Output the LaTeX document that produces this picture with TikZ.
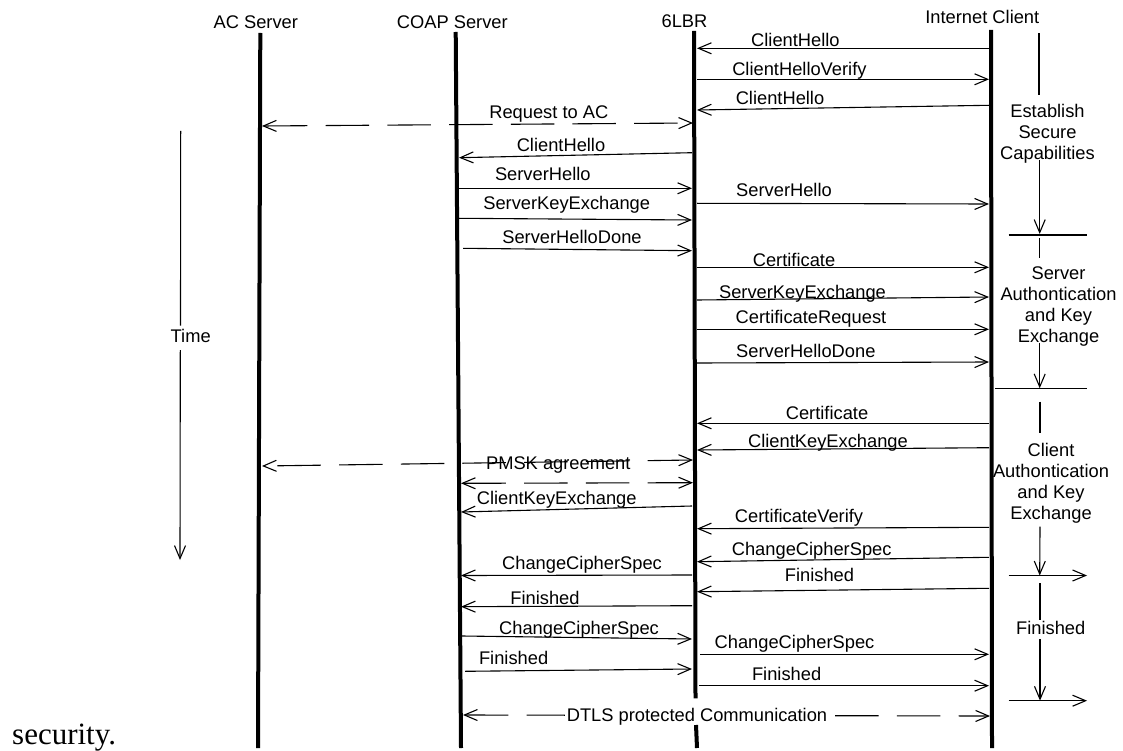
\documentclass[tikz,border=0pt]{standalone}
\usepackage{fontspec}
\setmainfont{Liberation Sans}
\newfontfamily\serifA{Liberation Serif}
\usetikzlibrary{arrows.meta}
\begin{document}
\begin{tikzpicture}[x=1pt,y=-1pt,
  life/.style={line width=4pt},
  msg/.style={line width=1.1pt,-{Straight Barb[length=13pt,width=11pt]}},
  plain/.style={line width=1.1pt},
  dmsg/.style={line width=1.1pt,{Straight Barb[length=13pt,width=11pt]}-{Straight Barb[length=13pt,width=11pt]},dash pattern=on 43.5pt off 18.2pt},
  lbl/.style={font=\fontsize{18.3}{21}\selectfont,inner sep=0pt,text height=13.1pt,text depth=0pt},
  blk/.style={font=\fontsize{18.3}{21}\selectfont,inner sep=0pt,align=center}]
\useasboundingbox (0,0) rectangle (1123,751);

% lifeline end points
\coordinate (acT) at (260.3,33);  \coordinate (acB) at (258,748);
\coordinate (coT) at (455.7,32);  \coordinate (coB) at (461,748);
\coordinate (lbT) at (694,31);    \coordinate (lbM1) at (695.5,698.3);
\coordinate (lbM2) at (696,725);  \coordinate (lbB) at (697,748);
\coordinate (icT) at (991,30);    \coordinate (icB) at (992,748);

% headers
\node[lbl] (acL) at (255.8,21.7) {AC Server};
\node[lbl] (coL) at (452.3,22) {COAP Server};
\node[lbl] (lbL) at (684.5,20.7) {6LBR};
\node[lbl] (icL) at (982.3,16.7) {Internet Client};

% lifelines
\draw[life] (acT) -- (acB);
\draw[life] (coT) -- (coB);
\draw[life] (lbT) -- (lbM1);
\draw[life] (lbM2) -- (lbB);
\draw[life] (icT) -- (icB);

% time axis
\node[lbl] (time) at (190.7,336) {Time};
\coordinate (tT) at (180.7,131); \coordinate (tM1) at (180.5,325.7);
\coordinate (tM2) at (180.3,350); \coordinate (tB) at (180,560);
\draw[plain] (tT) -- (tM1);
\draw[msg] (tM2) -- (tB);

% messages
\draw[msg] (989,48.3) -- (697,48.3);
\node[lbl] (m1) at (795.4,40) {ClientHello};
\draw[msg] (697,79.3) -- (989,79.3);
\node[lbl] (m2) at (799.4,69.3) {ClientHelloVerify};
\draw[msg] (989,105.3) -- (697,110);
\node[lbl] (m3) at (780,98.3) {ClientHello};

\draw[dmsg] (262,126) -- (693,123);
\node[lbl] (m4) at (548.8,112.3) {Request to AC};

\draw[msg] (692,152.7) -- (459,157.7);
\node[lbl] (m5) at (561,145) {ClientHello};
\draw[msg] (459,188.3) -- (692,188.3);
\node[lbl] (m6) at (542.8,174.3) {ServerHello};
\draw[msg] (697,203.3) -- (989,204);
\node[lbl] (m7) at (784,190) {ServerHello};
\draw[msg] (459,218.3) -- (692,220);
\node[lbl] (m8) at (566.7,203.3) {ServerKeyExchange};
\draw[msg] (463,248.3) -- (692,250.7);
\node[lbl] (m9) at (572,237.3) {ServerHelloDone};

\draw[msg] (697,267.3) -- (989,267.3);
\node[lbl] (m10) at (794,260) {Certificate};
\draw[msg] (697,300) -- (989,297);
\node[lbl] (m11) at (802.5,291.7) {ServerKeyExchange};
\draw[msg] (697,329.3) -- (989,329.3);
\node[lbl] (m12) at (811,317.3) {CertificateRequest};
\draw[msg] (697,363) -- (989,362);
\node[lbl] (m13) at (805.8,351.3) {ServerHelloDone};

\draw[msg] (989,423.3) -- (697,423.3);
\node[lbl] (m14) at (827,412.7) {Certificate};
\draw[msg] (989,447.7) -- (697,450);
\node[lbl] (m15) at (828,441) {ClientKeyExchange};

\draw[dmsg] (693,460) -- (262,466);
\node[lbl] (m16) at (558.3,462.7) {PMSK agreement};
\draw[dmsg] (693,482.7) -- (461,483.3);

\draw[msg] (692,506) -- (461,512);
\node[lbl] (m18) at (556.7,498.3) {ClientKeyExchange};
\draw[msg] (989,527.3) -- (697,528.7);
\node[lbl] (m19) at (799,516) {CertificateVerify};
\draw[msg] (989,557.3) -- (697,561.7);
\node[lbl] (m20) at (811.7,549.3) {ChangeCipherSpec};
\draw[msg] (692,575) -- (461,575.5);
\node[lbl] (m21) at (582,563) {ChangeCipherSpec};
\draw[msg] (989,588.3) -- (697,591.7);
\node[lbl] (m22) at (819.5,575) {Finished};
\draw[msg] (692,605.7) -- (461,606.7);
\node[lbl] (m23) at (545,598.3) {Finished};
\draw[msg] (462,636) -- (692,639);
\node[lbl] (m24) at (579,628.3) {ChangeCipherSpec};
\draw[msg] (700,654.3) -- (989,654.3);
\node[lbl] (m25) at (794.5,641.7) {ChangeCipherSpec};
\draw[msg] (465,671.3) -- (692,669);
\node[lbl] (m26) at (513.6,657.7) {Finished};
\draw[msg] (699,685.7) -- (989,685.7);
\node[lbl] (m27) at (786.6,674.3) {Finished};

\draw[dmsg] (463,715) -- (990,716);
\node[lbl,fill=white,inner xsep=1.5pt] (m28) at (697,715) {DTLS protected Communication};

% phase brackets on the right
\draw[plain] (1039,33.3) -- (1039,95);
\node[blk] (ph1) at (1047.5,134) {Establish\\Secure\\Capabilities};
\draw[msg] (1039.7,160) -- (1039.7,234);
\draw[plain] (1008.6,235) -- (1086.5,235);

\draw[plain] (1039.7,238) -- (1039.7,258);
\node[blk] (ph2) at (1058.5,306.9) {Server\\Authontication\\and Key\\Exchange};
\draw[msg] (1039.7,342.7) -- (1039.7,388.3);
\draw[plain] (995,388.3) -- (1086.5,388.3);

\draw[plain] (1040,401.7) -- (1040,433.3);
\node[blk] (ph3) at (1051,482.8) {Client\\Authontication\\and Key\\Exchange};
\draw[msg] (1040,526.7) -- (1039.7,575.5);
\draw[msg] (1008.6,575.5) -- (1087,575.5);

\draw[plain] (1040,583.3) -- (1040,620);
\node[lbl] (ph4) at (1050.7,628.3) {Finished};
\draw[msg] (1040,639.3) -- (1040,700.7);
\draw[msg] (1008.6,700.7) -- (1087,700.7);

% stray caption text
\node[anchor=base west,inner sep=0pt,font=\serifA\fontsize{31}{31}\selectfont] (cap) at (12,744.5) {security.};
\end{tikzpicture}
\end{document}
